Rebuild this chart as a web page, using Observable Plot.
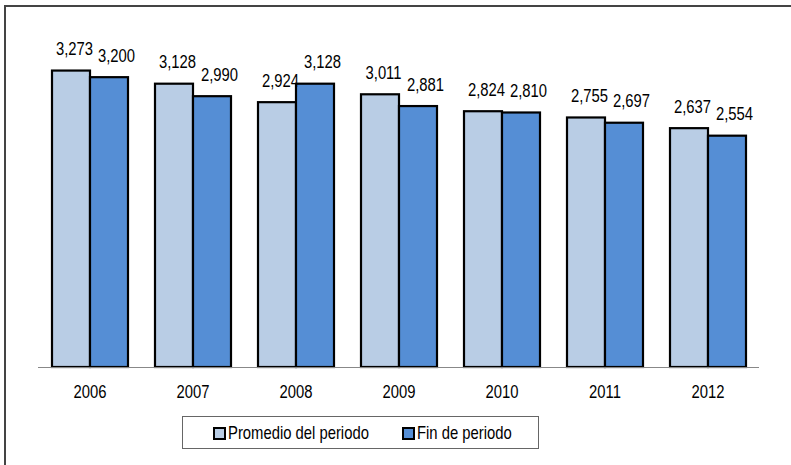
<!DOCTYPE html>
<html>
<head>
<meta charset="utf-8">
<script src="https://cdn.jsdelivr.net/npm/d3@7"></script>
<script src="https://cdn.jsdelivr.net/npm/@observablehq/plot@0.6"></script>
<style>
  html, body { margin: 0; padding: 0; background: #fff; }
  #wrap { position: relative; width: 791px; height: 465px; overflow: hidden; font-family: "Liberation Sans", Arial, sans-serif; }
  #frame { position: absolute; left: 4px; top: 5px; width: 900px; height: 600px; border-top: 2px solid #444; border-left: 2px solid #444; }
  #chart { position: absolute; left: 0; top: 0; }
  #legend { position: absolute; left: 182px; top: 416px; width: 355px; height: 31px; border: 1px solid #666; background: #fff; font-size: 19px; color: #000; }
  .item { position: absolute; top: 0; height: 31px; line-height: 31px; white-space: nowrap; transform: scaleX(0.78); transform-origin: left center; }
  .sw { position: absolute; top: 10px; width: 9px; height: 9px; border: 2px solid #000; }
</style>
</head>
<body>
<div id="wrap">
  <div id="frame"></div>
  <div id="chart"></div>
  <div id="legend"></div>
</div>
<script>
const years = ["2006", "2007", "2008", "2009", "2010", "2011", "2012"];
const seriesNames = ["Promedio del periodo", "Fin de periodo"];
const promedio = [3273, 3128, 2924, 3011, 2824, 2755, 2637];
const fin = [3200, 2990, 3128, 2881, 2810, 2697, 2554];
const colors = ["#B9CDE5", "#558ED5"];

const data = [];
years.forEach((y, i) => {
  data.push({year: y, series: seriesNames[0], value: promedio[i]});
  data.push({year: y, series: seriesNames[1], value: fin[i]});
});
const fmt = d3.format(",");

const chart = Plot.plot({
  width: 791,
  height: 410,
  marginLeft: 35,
  marginRight: 30,
  marginTop: 50,
  marginBottom: 43,
  style: {fontFamily: '"Liberation Sans", Arial, sans-serif', fontSize: "19px", color: "#000", background: "transparent"},
  fx: {domain: years, padding: 0, label: null},
  x: {domain: seriesNames, axis: null, paddingInner: 0, paddingOuter: 0.336},
  y: {domain: [0, 3500], axis: null},
  color: {domain: seriesNames, range: colors},
  marks: [
    Plot.barY(data, {fx: "year", x: "series", y: "value", fill: "series", stroke: "#000", strokeWidth: 2.2}),
    Plot.ruleY([0], {stroke: "#888", strokeWidth: 1}),
    Plot.text(data.filter(d => d.series === seriesNames[0]), {fx: "year", x: "series", y: "value", text: d => fmt(d.value), dy: -22, dx: 3, lineAnchor: "middle", fill: "#000"}),
    Plot.text(data.filter(d => d.series === seriesNames[1]), {fx: "year", x: "series", y: "value", text: d => fmt(d.value), dy: -22, dx: 7, lineAnchor: "middle", fill: "#000"}),
    Plot.axisFx({anchor: "bottom", tickSize: 0, tickPadding: 17, label: null, fill: "#000"})
  ]
});
document.getElementById("chart").appendChild(chart);

// condense text horizontally (narrow face look) around each label's centre
d3.select(chart).selectAll("text").each(function() {
  const b = this.getBBox();
  const cx = b.x + b.width / 2;
  const t = this.getAttribute("transform") || "";
  this.setAttribute("transform", `${t} translate(${cx},0) scale(0.78,1) translate(${-cx},0)`.trim());
});

const legend = document.getElementById("legend");
const pos = [{sw: 30, tx: 45}, {sw: 219, tx: 234}];
seriesNames.forEach((name, i) => {
  const sw = document.createElement("div");
  sw.className = "sw";
  sw.style.left = pos[i].sw + "px";
  sw.style.background = colors[i];
  legend.appendChild(sw);
  const t = document.createElement("div");
  t.className = "item";
  t.style.left = pos[i].tx + "px";
  t.textContent = name;
  legend.appendChild(t);
});
</script>
</body>
</html>
